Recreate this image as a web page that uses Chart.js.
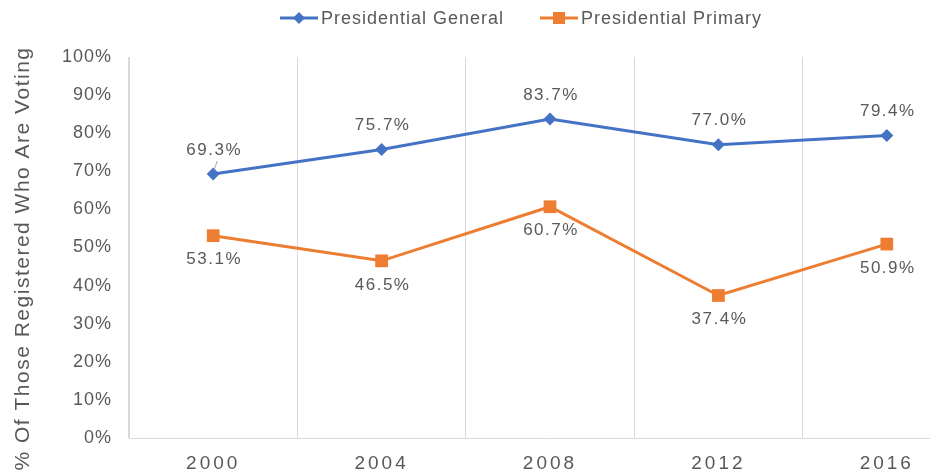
<!DOCTYPE html>
<html><head><meta charset="utf-8">
<script src="https://cdn.jsdelivr.net/npm/chart.js@4"></script>
<style>html,body{margin:0;padding:0;background:#fff;overflow:hidden;width:930px;height:473px}#wrap{width:980px;height:473px;position:relative}</style>
</head><body><div id="wrap"><canvas id="c" width="980" height="473"></canvas></div>
<script>
const categories = ['2000','2004','2008','2012','2016'];
const generalValues = [69.3, 75.7, 83.7, 77.0, 79.4];
const primaryValues = [53.1, 46.5, 60.7, 37.4, 50.9];
const yTicks = [0,10,20,30,40,50,60,70,80,90,100];
const seriesNames = ['Presidential General','Presidential Primary'];
const FONT = '"Liberation Sans", Arial, sans-serif';
const TXT = '#595959';

function wrapSpacing(scale, fnName, spacing, tx, ty){
  if (!scale || scale['_ls_'+fnName]) return;
  const orig = scale[fnName].bind(scale);
  scale[fnName] = function(a){ const ctx=this.ctx; ctx.save(); ctx.letterSpacing=spacing; if (tx||ty) ctx.translate(tx||0, ty||0); orig(a); ctx.restore(); };
  scale['_ls_'+fnName] = true;
}

const labelPlugin = {
  id: 'labels',
  beforeDraw(chart){
    wrapSpacing(chart.scales.x, 'drawLabels', '3px');
    wrapSpacing(chart.scales.y, 'drawLabels', '1px');
    wrapSpacing(chart.scales.y, 'drawTitle', '1.5px', 11, 11);
  },
  afterDatasetsDraw(chart){
    const ctx = chart.ctx;
    ctx.save();
    ctx.font = '17px ' + FONT;
    ctx.letterSpacing = '1.5px';
    ctx.fillStyle = TXT;
    ctx.textAlign = 'center';
    ctx.textBaseline = 'middle';
    chart.data.datasets.forEach((ds, di) => {
      const meta = chart.getDatasetMeta(di);
      meta.data.forEach((pt, i) => {
        const v = ds.data[i];
        const dy = di === 0 ? -24 : 24;
        if (di === 0 && i === 0) {
          ctx.strokeStyle = '#A6A6A6'; ctx.lineWidth = 1;
          ctx.beginPath(); ctx.moveTo(pt.x+1, pt.y-4); ctx.lineTo(pt.x+4, pt.y-13); ctx.stroke();
        }
        ctx.fillText(v.toFixed(1) + '%', pt.x + 1, pt.y + dy);
      });
    });
    // legend
    const items = [
      {x: 280, color: '#4472C4', style: 'diamond', text: seriesNames[0]},
      {x: 540, color: '#ED7D31', style: 'square', text: seriesNames[1]}
    ];
    const ly = 18;
    items.forEach(it => {
      ctx.strokeStyle = it.color; ctx.fillStyle = it.color; ctx.lineWidth = 3;
      ctx.beginPath(); ctx.moveTo(it.x, ly); ctx.lineTo(it.x + 38, ly); ctx.stroke();
      const cx = it.x + 19;
      if (it.style === 'diamond') {
        ctx.beginPath(); ctx.moveTo(cx, ly-6); ctx.lineTo(cx+6, ly); ctx.lineTo(cx, ly+6); ctx.lineTo(cx-6, ly); ctx.closePath(); ctx.fill();
      } else {
        ctx.fillRect(cx-6, ly-6, 12, 12);
      }
      ctx.fillStyle = TXT; ctx.font = '18px ' + FONT; ctx.letterSpacing = '1px'; ctx.textAlign = 'left';
      ctx.fillText(it.text, it.x + 41, ly + 1);
    });
    ctx.restore();
  }
};

new Chart(document.getElementById('c'), {
  type: 'line',
  data: {
    labels: categories,
    datasets: [
      {label: seriesNames[0], data: generalValues, borderColor: '#4472C4', backgroundColor: '#4472C4', borderWidth: 3, pointStyle: 'rectRot', pointRadius: 6.5, pointBorderWidth: 0, tension: 0},
      {label: seriesNames[1], data: primaryValues, borderColor: '#ED7D31', backgroundColor: '#ED7D31', borderWidth: 3, pointStyle: 'rect', pointRadius: 9, pointBorderWidth: 0, tension: 0}
    ]
  },
  options: {
    responsive: false,
    animation: false,
    devicePixelRatio: 1,
    layout: {padding: {top: 57, right: 3, left: 0, bottom: 0}},
    plugins: {legend: {display: false}, tooltip: {enabled: false}},
    scales: {
      x: {
        offset: true,
        grid: {offset: true, color: '#D9D9D9', lineWidth: 1, drawTicks: false},
        border: {color: '#D9D9D9', width: 1},
        ticks: {color: TXT, font: {family: FONT, size: 19}, padding: 14, maxRotation: 0},
        afterFit(s){ s.height = 35; }
      },
      y: {
        min: 0, max: 100,
        afterBuildTicks(s){ s.ticks = yTicks.map(v => ({value: v})); },
        grid: {display: false, drawTicks: false},
        border: {color: '#D9D9D9', width: 1},
        ticks: {color: TXT, font: {family: FONT, size: 18}, padding: 17, callback: v => v + '%'},
        title: {display: true, text: '% Of Those Registered Who Are Voting', color: TXT, font: {family: FONT, size: 21}, padding: {top: 0, bottom: 0}},
        afterFit(s){ s.width = 129; }
      }
    }
  },
  plugins: [labelPlugin]
});
</script></body></html>
